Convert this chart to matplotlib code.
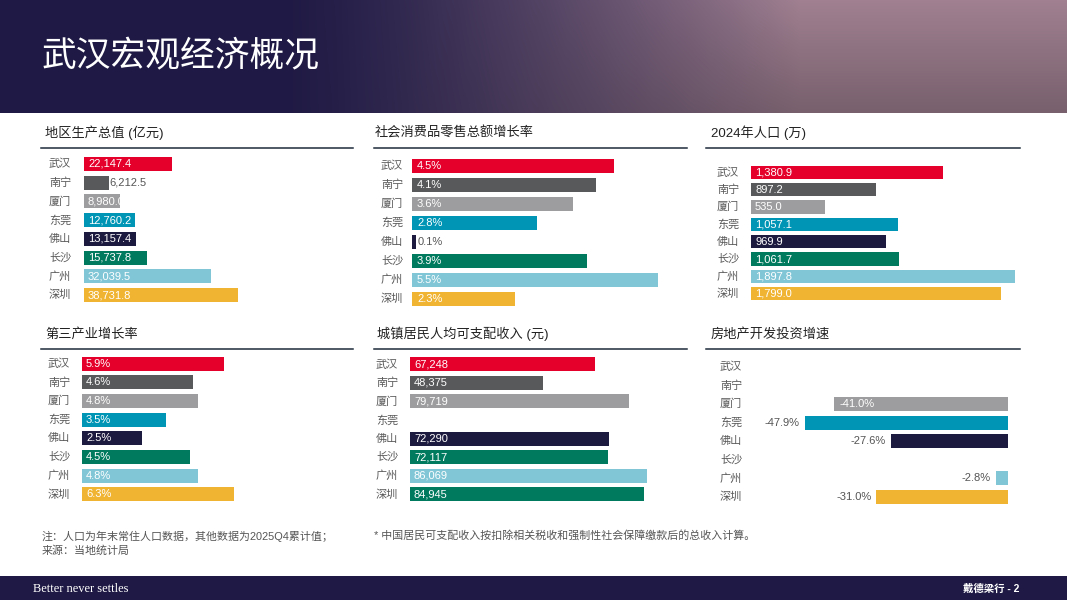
import matplotlib.pyplot as plt
import numpy as np
from matplotlib.lines import Line2D
from matplotlib.transforms import blended_transform_factory

plt.rcParams['font.family'] = ['Liberation Sans', 'Noto Sans CJK SC']

W, H = 1067, 600

cities = ["武汉", "南宁", "厦门", "东莞", "佛山", "长沙", "广州", "深圳"]
gdp = [22147.4, 6212.5, 8980.0, 12760.2, 13157.4, 15737.8, 32039.5, 38731.8]
retail_growth = [4.5, 4.1, 3.6, 2.8, 0.1, 3.9, 5.5, 2.3]
population = [1380.9, 897.2, 535.0, 1057.1, 969.9, 1061.7, 1897.8, 1799.0]
tertiary_growth = [5.9, 4.6, 4.8, 3.5, 2.5, 4.5, 4.8, 6.3]
income = [67248, 48375, 79719, np.nan, 72290, 72117, 86069, 84945]
realestate_growth = [np.nan, np.nan, -41.0, -47.9, -27.6, np.nan, -2.8, -31.0]

city_colors = ["#e4002b", "#58595b", "#9d9d9f", "#0095b5", "#1d1a3f",
               "#007a5e", "#80c6d6", "#f0b332"]
income_colors = city_colors[:7] + ["#007a5e"]

NAVY = "#1f1a45"


def fx(px):
    return px / W


def fy(py):
    return 1 - py / H


fig = plt.figure(figsize=(W / 100, H / 100), dpi=100)
fig.patch.set_facecolor("white")

# header band with a soft "photo" fade on the right
hdr = fig.add_axes([0, fy(113), 1, 113 / H])
xs = np.linspace(0, 1, W)
ys = np.linspace(0, 1, 113)
t = np.clip((xs * W - 280) / 520, 0, 1) ** 1.3
navy = np.array([31, 26, 69]) / 255
photo = np.array([160, 128, 145]) / 255
img = navy[None, None, :] * (1 - t[None, :, None]) + photo[None, None, :] * t[None, :, None]
img = img * (1 - 0.25 * ys[:, None, None] * t[None, :, None])
hdr.imshow(np.clip(img, 0, 1), aspect="auto", extent=[0, 1, 0, 1])
hdr.axis("off")
fig.text(fx(42), fy(57), "武汉宏观经济概况", color="white", fontsize=25,
         va="center", ha="left")

# footer band
ftr = fig.add_axes([0, 0, 1, 24 / H])
ftr.set_facecolor(NAVY)
ftr.set_xticks([])
ftr.set_yticks([])
for s in ftr.spines.values():
    s.set_visible(False)
fig.text(fx(33), fy(589), "Better never settles", color="white", fontsize=9,
         family="Liberation Serif", va="center")
fig.text(fx(1019), fy(589), "戴德梁行 - 2", color="white", fontsize=7.5,
         va="center", ha="right", fontweight="bold")


def panel(values, colors, title, tx, ty, lx0, lx1, ly, cx, x0, x1, zero, scale,
          r0, r1, bar_px, fmt, outside=(), inside_off=4, out_gap=1):
    n = len(values)
    sp = (r1 - r0) / (n - 1)
    top, bottom = r0 - sp / 2, r1 + sp / 2
    ax = fig.add_axes([fx(x0), fy(bottom), (x1 - x0) / W, (bottom - top) / H])
    ax.set_xlim((x0 - zero) / scale, (x1 - zero) / scale)
    ax.set_ylim(n - 0.5, -0.5)
    ax.axis("off")

    fig.text(fx(tx), fy(ty), title, fontsize=9.5, color="#222222", va="center")
    fig.add_artist(Line2D([fx(lx0), fx(lx1)], [fy(ly), fy(ly)],
                          color="#1d2b3a", lw=1.1))

    trans = blended_transform_factory(fig.transFigure, ax.transData)
    for i, c in enumerate(cities):
        ax.text(fx(cx), i, c, transform=trans, fontsize=8, color="#595959",
                va="center", ha="left")

    for i, v in enumerate(values):
        if np.isnan(v):
            continue
        ax.barh(i, v, height=bar_px / sp, color=colors[i])
        txt = fmt(v)
        if i in outside:
            if v >= 0:
                ax.annotate(txt, (v, i), xytext=(out_gap * 0.72, 0), textcoords="offset points",
                            ha="left", va="center", fontsize=8, color="#555555")
            else:
                ax.annotate(txt, (v, i), xytext=(-out_gap * 0.72, 0), textcoords="offset points",
                            ha="right", va="center", fontsize=8, color="#555555")
        else:
            start = min(0, v)
            ax.annotate(txt, (start, i), xytext=(inside_off * 0.72, 0), textcoords="offset points",
                        ha="left", va="center", fontsize=8, color="white")
    return ax


panel(gdp, city_colors, "地区生产总值 (亿元)", 45, 133, 41, 353, 148, 49,
      84, 353, 84, 88 / 22147.4, 164, 295, 14, lambda v: f"{v:,.1f}", outside={1})
panel(retail_growth, city_colors, "社会消费品零售总额增长率", 375, 133, 374, 687, 148, 381,
      412, 687, 412, 201.5 / 4.5, 165.7, 298.7, 14, lambda v: f"{v:.1f}%", outside={4},
      inside_off=5)
panel(population, city_colors, "2024年人口 (万)", 711, 133, 706, 1020, 148, 717,
      751, 1020, 751, 192 / 1380.9, 172.3, 293.7, 13.3, lambda v: f"{v:,.1f}")
panel(tertiary_growth, city_colors, "第三产业增长率", 45, 334, 41, 353, 349, 48,
      82, 353, 82, 142 / 5.9, 363.7, 494.3, 14, lambda v: f"{v:.1f}%")
panel(income, income_colors, "城镇居民人均可支配收入 (元)", 377, 334, 374, 687, 349, 376,
      410, 687, 410, 185 / 67248, 364.3, 494.3, 14, lambda v: f"{v:,.0f}")
panel(realestate_growth, city_colors, "房地产开发投资增速", 711, 334, 706, 1020, 349, 720,
      706, 1020, 1008, 174 / 41.0, 366.7, 497, 14, lambda v: f"{v:.1f}%",
      outside={3, 4, 6, 7}, inside_off=6, out_gap=5)

fig.text(fx(42), fy(536), "注：人口为年末常住人口数据，其他数据为2025Q4累计值；",
         fontsize=7.9, color="#555555", va="center")
fig.text(fx(42), fy(551), "来源：当地统计局", fontsize=7.9, color="#555555", va="center")
fig.text(fx(374), fy(535), "* 中国居民可支配收入按扣除相关税收和强制性社会保障缴款后的总收入计算。",
         fontsize=7.9, color="#555555", va="center")

fig.savefig("out.png", dpi=100)
